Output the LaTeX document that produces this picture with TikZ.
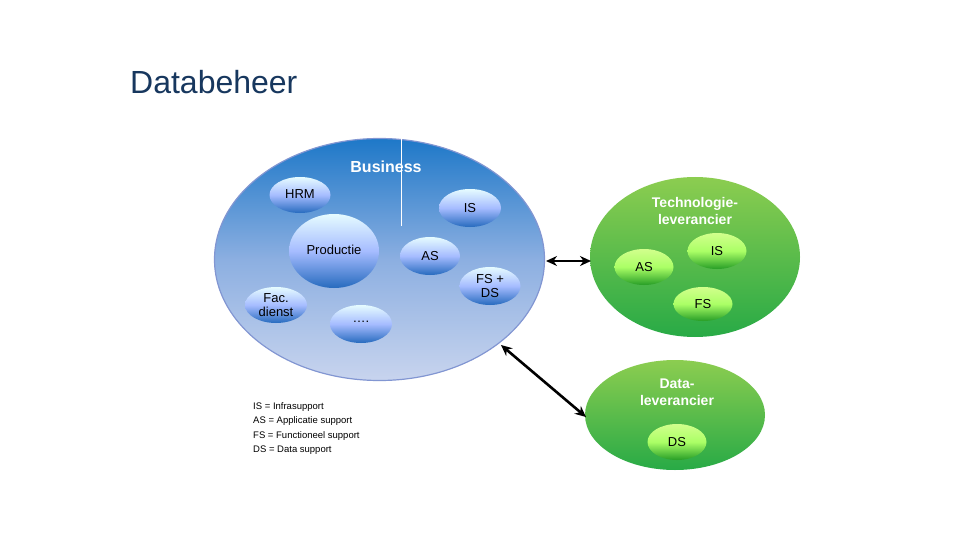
\documentclass[tikz,border=0pt]{standalone}
\usepackage{fontspec}
\setmainfont{Liberation Sans}
\usetikzlibrary{arrows.meta,shapes.geometric}
\definecolor{titlec}{HTML}{17375E}
\begin{document}
\begin{tikzpicture}[x=1pt,y=-1pt,
  bsmall/.style={ellipse,inner sep=0pt,top color=blue!15!cyan!10!white,bottom color=blue!55!cyan!70!black!85,middle color=cyan!25!blue!35,font=\fontsize{13}{14}\selectfont,align=center},
  gsmall/.style={ellipse,inner sep=0pt,top color=green!20!lime!45!white,bottom color=green!55!black!85,middle color=green!40!lime!60,font=\fontsize{13}{14}\selectfont,align=center},
  arr/.style={{Stealth[length=11pt,width=10pt]}-{Stealth[length=11pt,width=10pt]},line width=2.6pt},
  hdr/.style={font=\bfseries\fontsize{14}{17}\selectfont,align=center}]
\useasboundingbox (0,0) rectangle (960,540);
\node[anchor=west,text=titlec,font=\fontsize{32}{36}\selectfont,inner sep=0pt] (title) at (130,82) {Databeheer};
% big blue
\shade[top color={rgb,255:red,30;green,120;blue,200},bottom color={rgb,255:red,200;green,212;blue,238},middle color={rgb,255:red,140;green,175;blue,225}] (379.5,259.5) ellipse [x radius=165,y radius=121];
\draw[color={rgb,255:red,130;green,150;blue,210},line width=1.2pt] (379.5,259.5) ellipse [x radius=165,y radius=121];
\node[draw=none,minimum width=330pt,minimum height=242pt,ellipse,inner sep=0pt] (biz) at (379.5,259.5) {};
\draw[white,line width=1pt] (401,138) -- (401,226);
\node[hdr,text=white,font=\bfseries\fontsize{16}{18}\selectfont] (business) at (386,167) {Business};
\node[bsmall,minimum width=61pt,minimum height=36pt] (hrm) at (300,195) {\raisebox{2pt}{HRM}};
\node[bsmall,minimum width=62pt,minimum height=38pt] (is1) at (470,208) {IS};
\node[bsmall,minimum width=90pt,minimum height=74pt] (prod) at (334,251) {\raisebox{2pt}{Productie}};
\node[bsmall,minimum width=60pt,minimum height=38pt] (as1) at (430,256) {AS};
\node[bsmall,minimum width=61pt,minimum height=38pt] (fsds) at (490,286) {FS +\\DS};
\node[bsmall,minimum width=62pt,minimum height=36pt] (fac) at (276,305) {Fac.\\dienst};
\node[bsmall,minimum width=62pt,minimum height=38pt] (dots) at (361,324) {\raisebox{4pt}{\dots.}};
% green
\node[ellipse,minimum width=210pt,minimum height=160pt,inner sep=0pt,top color={rgb,255:red,140;green,205;blue,80},bottom color={rgb,255:red,40;green,170;blue,70}] (tech) at (695,257) {};
\node[ellipse,minimum width=180pt,minimum height=110pt,inner sep=0pt,top color={rgb,255:red,140;green,205;blue,80},bottom color={rgb,255:red,40;green,170;blue,70}] (data) at (675,415) {};
\node[hdr,text=white] (techl) at (695,211) {Technologie-\\leverancier};
\node[hdr,text=white] (datal) at (677,392) {Data-\\leverancier};
\node[gsmall,minimum width=59pt,minimum height=36pt] (as2) at (644,267) {AS};
\node[gsmall,minimum width=59pt,minimum height=36pt] (is2) at (717,251) {IS};
\node[gsmall,minimum width=59pt,minimum height=34pt] (fs2) at (703,304) {FS};
\node[gsmall,minimum width=59pt,minimum height=36pt] (ds2) at (677,442) {DS};
\coordinate (a1) at (546,261);
\coordinate (a2) at (591,261);
\draw[arr] (a1) -- (a2);
\coordinate (b1) at (501,345);
\coordinate (b2) at (586,417);
\draw[arr] (b1) -- (b2);
\node[anchor=north west,align=left,font=\fontsize{9.5}{14.5}\selectfont,inner sep=0pt] (legend) at (253,402) {IS = Infrasupport\\AS = Applicatie support\\FS = Functioneel support\\DS = Data support};
\end{tikzpicture}
\end{document}
